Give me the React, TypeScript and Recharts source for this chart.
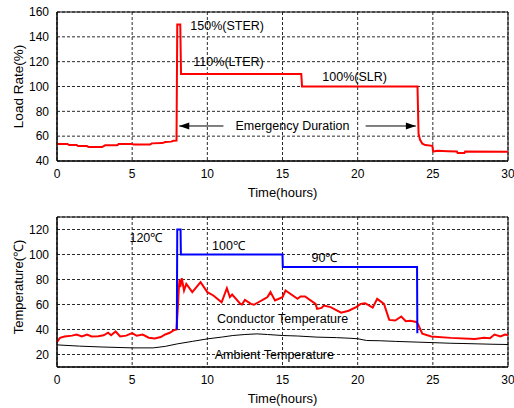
import {
  LineChart,
  Line,
  XAxis,
  YAxis,
  CartesianGrid,
  ReferenceArea,
  ReferenceDot,
  ReferenceLine,
} from "recharts";

// Hour ticks shared by both panels
const HOUR_TICKS = [0, 5, 10, 15, 20, 25, 30];
const LOAD_TICKS = [40, 60, 80, 100, 120, 140, 160];
const TEMP_TICKS = [20, 40, 60, 80, 100, 120];

// Load rate (%) — red step-ish profile
const loadHours = [
  0, 0.7, 0.8, 1.3, 1.4, 2.0, 2.1, 3.0, 3.2, 4.0, 4.1, 5.0, 5.1, 6.2, 6.3, 7.0, 7.2, 7.6, 7.75,
  7.95, 8.0, 8.2, 8.25, 16.25, 16.3, 23.98, 24.05, 24.15, 24.3, 24.5, 24.97, 25.02, 25.3, 26.0,
  26.6, 26.65, 27.1, 27.15, 30,
];
const loadValues = [
  53.7, 53.7, 52.9, 52.9, 52, 52, 51.2, 51.2, 52.6, 52.6, 53.6, 53.6, 53.2, 53.2, 54.2, 54.4, 55.3,
  55.6, 56.3, 56.5, 150, 150, 110, 110, 100, 100, 62, 57, 54, 52.8, 52.2, 47.6, 48.2, 47.8, 47.6,
  46.4, 46.4, 47.6, 47.4,
];

// Temperature limit (blue)
const limitHours = [7.97, 8.0, 8.22, 8.24, 15.0, 15.02, 23.95, 23.97];
const limitValues = [40, 120, 120, 100, 100, 90, 90, 37];

// Conductor temperature (red)
const condHours = [
  0, 0.2, 0.5, 1.0, 1.3, 1.65, 2.0, 2.3, 2.75, 3.1, 3.4, 3.6, 3.9, 4.2, 4.6, 5.0, 5.3, 5.7, 6.1,
  6.5, 6.9, 7.2, 7.5, 7.75, 7.95, 8.05, 8.1, 8.15, 8.2, 8.3, 8.45, 8.6, 9.0, 9.55, 10.0, 10.4,
  10.95, 11.3, 11.5, 11.65, 12.2, 12.3, 12.5, 12.9, 13.1, 13.4, 13.8, 14.0, 14.2, 14.5, 15.0, 15.2,
  16.0, 16.2, 16.5, 17.2, 17.3, 17.6, 17.75, 18.2, 18.9, 19.4, 19.9, 20.2, 20.5, 21.0, 21.3, 21.75,
  22.1, 22.5, 22.9, 23.2, 23.5, 23.9, 24.0, 24.3, 24.9, 26.2, 27.8, 28.4, 28.8, 29.1, 29.5, 29.8,
  30,
];
const condValues = [
  29.9, 33.4, 34.4, 35.1, 36, 34.4, 36, 34.4, 34.6, 35.4, 37.4, 35.4, 38.4, 34.4, 35.1, 37.1, 35,
  35.9, 33.4, 32.9, 34, 36, 37.4, 39.3, 40, 60, 72, 80, 74, 81, 71.2, 76.5, 69.9, 77.9, 69.9, 67.2,
  61.8, 73, 65.9, 68, 60.5, 60, 63.7, 60.5, 59.8, 61.8, 64.5, 65.9, 69.9, 63.2, 65.9, 71.2, 64.5,
  66.4, 66.4, 60.5, 56.5, 57.3, 59.2, 57.9, 53.5, 55, 57.9, 60.5, 61, 57.5, 64.5, 60.5, 47.7, 47.2,
  50.4, 46.7, 47, 46, 44.6, 36.6, 34.4, 33.3, 32.5, 33.3, 33, 36, 34.4, 36, 35.6, 34.8,
];

// Ambient temperature (black)
const ambHours = [
  0, 1.5, 3, 5, 6.4, 7.2, 8, 9, 10, 11, 11.7, 12.5, 13.3, 14, 15, 16, 17.3, 18.6, 19.5, 20, 20.6,
  21.5, 22.5, 24, 25, 26.2, 27, 28, 29, 30,
];
const ambValues = [
  27.7, 26.7, 26, 25.3, 25.3, 26.5, 28.5, 30.5, 32.5, 34, 35.2, 36, 36.5, 36, 35.2, 34.8, 33.9,
  33.5, 33, 32.6, 31.2, 31, 30.5, 29.9, 29.5, 29, 28.8, 28.5, 28.2, 28,
];

const zip = (ts: number[], vs: number[]) => ts.map((t, i) => ({ t, v: vs[i] }));

const FONT = "Arial, 'Liberation Sans', sans-serif";
const GRID = "#2a2a2a";
const TICK = { fill: "#000", fontSize: 12, fontFamily: FONT };
const AXIS_LABEL = { fontSize: 13, fontFamily: FONT, fill: "#000" };

const textShape = (label: string) => (p: any) => (
  <text
    x={p.cx}
    y={p.cy}
    dominantBaseline="central"
    fontSize={12.5}
    fontFamily={FONT}
    fill="#000"
  >
    {label}
  </text>
);

const Arrow = (p: any) => {
  const { x1, y1, x2, y2 } = p;
  const dir = x2 > x1 ? 1 : -1;
  return (
    <g>
      <line x1={x1} y1={y1} x2={x2} y2={y2} stroke="#000" strokeWidth={1} />
      <polygon
        points={`${x2},${y2} ${x2 - dir * 10},${y2 - 3.5} ${x2 - dir * 10},${y2 + 3.5}`}
        fill="#000"
      />
    </g>
  );
};

export default function App() {
  return (
    <div
      style={{
        position: "absolute",
        left: 0,
        top: 0,
        width: 514,
        height: 408,
        background: "#fff",
        fontFamily: FONT,
      }}
    >
      {/* top panel: load rate */}
      <LineChart width={514} height={200} margin={{ top: 12, right: 6, bottom: 0, left: 0 }}>
        <CartesianGrid stroke={GRID} strokeDasharray="3 2" />
        <XAxis
          type="number"
          dataKey="t"
          domain={[0, 30]}
          ticks={HOUR_TICKS}
          tick={TICK}
          tickLine={false}
          axisLine={{ stroke: "#000" }}
          height={39}
          label={{ value: "Time(hours)", position: "insideBottom", offset: 3, style: AXIS_LABEL }}
        />
        <YAxis
          type="number"
          domain={[40, 160]}
          ticks={LOAD_TICKS}
          tick={TICK}
          tickLine={false}
          axisLine={{ stroke: "#000" }}
          width={57}
          label={{ value: "Load Rate(%)", angle: -90, position: "insideLeft", offset: 18, style: { ...AXIS_LABEL, fontSize: 13.5, textAnchor: "middle" } }}
        />
        <ReferenceArea x1={0} x2={30} y1={40} y2={160} stroke="#000" fill="none" fillOpacity={0} />
        <Line
          data={zip(loadHours, loadValues)}
          dataKey="v"
          type="linear"
          stroke="#ff0000"
          strokeWidth={2}
          dot={false}
          isAnimationActive={false}
        />
        <ReferenceLine segment={[{ x: 11.07, y: 68.2 }, { x: 8.13, y: 68.2 }]} shape={Arrow} />
        <ReferenceLine segment={[{ x: 20.53, y: 68.2 }, { x: 23.87, y: 68.2 }]} shape={Arrow} />
        <ReferenceDot x={8.87} y={148.7} r={0} shape={textShape("150%(STER)")} />
        <ReferenceDot x={9.07} y={120} r={0} shape={textShape("110%(LTER)")} />
        <ReferenceDot x={17.65} y={107.6} r={0} shape={textShape("100%(SLR)")} />
        <ReferenceDot x={11.87} y={68.2} r={0} shape={textShape("Emergency Duration")} />
      </LineChart>

      {/* bottom panel: temperatures */}
      <LineChart width={514} height={208} margin={{ top: 17, right: 6, bottom: 0, left: 0 }}>
        <CartesianGrid stroke={GRID} strokeDasharray="3 2" />
        <XAxis
          type="number"
          dataKey="t"
          domain={[0, 30]}
          ticks={HOUR_TICKS}
          tick={TICK}
          tickLine={false}
          axisLine={{ stroke: "#000" }}
          height={41}
          label={{ value: "Time(hours)", position: "insideBottom", offset: 5, style: AXIS_LABEL }}
        />
        <YAxis
          type="number"
          domain={[10, 130]}
          ticks={TEMP_TICKS}
          tick={TICK}
          tickLine={false}
          axisLine={{ stroke: "#000" }}
          width={57}
          label={{ value: "Temperature(℃)", angle: -90, position: "insideLeft", offset: 18, dy: -5, style: { ...AXIS_LABEL, textAnchor: "middle" } }}
        />
        <ReferenceArea x1={0} x2={30} y1={10} y2={130} stroke="#000" fill="none" fillOpacity={0} />
        <Line
          data={zip(ambHours, ambValues)}
          dataKey="v"
          type="linear"
          stroke="#000"
          strokeWidth={1}
          dot={false}
          isAnimationActive={false}
        />
        <Line
          data={zip(condHours, condValues)}
          dataKey="v"
          type="linear"
          stroke="#ff0000"
          strokeWidth={2}
          dot={false}
          isAnimationActive={false}
        />
        <Line
          data={zip(limitHours, limitValues)}
          dataKey="v"
          type="linear"
          stroke="#0000ff"
          strokeWidth={2}
          dot={false}
          isAnimationActive={false}
        />
        <ReferenceDot x={4.82} y={113.4} r={0} shape={textShape("120℃")} />
        <ReferenceDot x={10.31} y={106.6} r={0} shape={textShape("100℃")} />
        <ReferenceDot x={16.93} y={97.4} r={0} shape={textShape("90℃")} />
        <ReferenceDot x={10.65} y={48.6} r={0} shape={textShape("Conductor Temperature")} />
        <ReferenceDot x={10.49} y={20} r={0} shape={textShape("Ambient Temperature")} />
      </LineChart>
    </div>
  );
}
